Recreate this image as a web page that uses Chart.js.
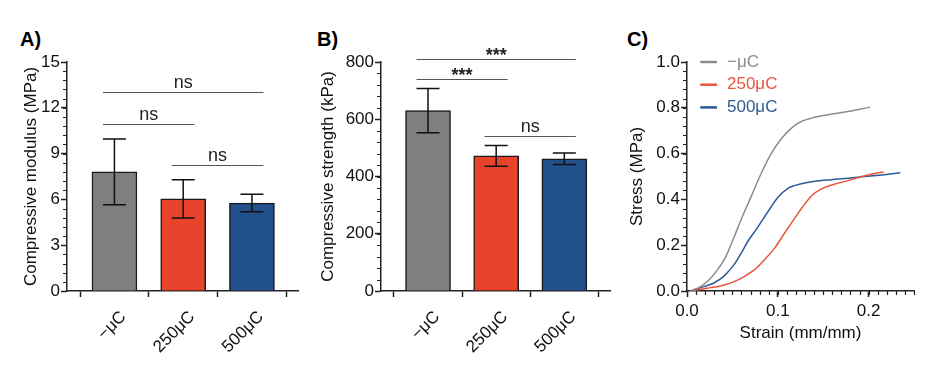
<!DOCTYPE html>
<html>
<head>
<meta charset="utf-8">
<script src="https://cdn.jsdelivr.net/npm/chart.js@4.4.1/dist/chart.umd.min.js"></script>
<style>
  html, body { margin: 0; padding: 0; background: #fff; }
  body { width: 932px; height: 378px; position: relative; overflow: hidden; font-family: "Liberation Sans", Arial, sans-serif; }
  .panel { position: absolute; top: 0; height: 378px; }
  .lbl { position: absolute; font-weight: bold; font-size: 20px; line-height: 1; color: #000; }
</style>
</head>
<body>
<div class="lbl" style="left:20px; top:29px;">A)</div>
<div class="lbl" style="left:317px; top:29px;">B)</div>
<div class="lbl" style="left:627px; top:29px;">C)</div>
<div class="panel" style="left:0px; width:310px;"><canvas id="chartA"></canvas></div>
<div class="panel" style="left:310px; width:310px;"><canvas id="chartB"></canvas></div>
<div class="panel" style="left:620px; width:312px;"><canvas id="chartC"></canvas></div>
<script>
// ---------------- data ----------------
const categories = ['−μC', '250μC', '500μC'];
const barColors = ['#7f7f7f', '#e8432a', '#23518c'];

const modulusMean = [7.8, 6.03, 5.76];
const modulusSD = [2.15, 1.25, 0.57];
const modulusTicks = [0, 3, 6, 9, 12, 15];
const modulusBrackets = [[0, 2, 13.05, 'ns'], [0, 1, 10.96, 'ns'], [1, 2, 8.25, 'ns']];

const strengthMean = [630, 472, 462];
const strengthSD = [77, 36, 20];
const strengthTicks = [0, 200, 400, 600, 800];
const strengthBrackets = [[0, 2, 811, '***'], [0, 1, 741, '***'], [1, 2, 541, 'ns']];

const curveLabels = ['−μC', '250μC', '500μC'];
const curveColors = ['#8c8c8c', '#e8553f', '#2d5b95'];
const strainTicks = [0, 0.1, 0.2];
const stressTicks = [0, 0.2, 0.4, 0.6, 0.8, 1.0];

const strainCtrl = [0.004, 0.0148, 0.0241, 0.0333, 0.0426, 0.0519, 0.0593, 0.0704, 0.0815, 0.0926, 0.1037, 0.1148, 0.1241, 0.137, 0.1556, 0.174, 0.189, 0.2018];
const stressCtrl = [0, 0.019, 0.048, 0.091, 0.149, 0.236, 0.309, 0.41, 0.512, 0.599, 0.664, 0.71, 0.737, 0.755, 0.770, 0.782, 0.793, 0.803];

const strain250 = [0.004, 0.0222, 0.037, 0.0518, 0.063, 0.074, 0.085, 0.0963, 0.107, 0.1185, 0.126, 0.137, 0.148, 0.163, 0.178, 0.1926, 0.207, 0.2167];
const stress250 = [0, 0.012, 0.022, 0.041, 0.063, 0.092, 0.135, 0.186, 0.25, 0.317, 0.36, 0.415, 0.446, 0.467, 0.483, 0.5, 0.513, 0.52];

const strain500 = [0.004, 0.0185, 0.0296, 0.0407, 0.0518, 0.0611, 0.0667, 0.0778, 0.0889, 0.1, 0.1111, 0.126, 0.1407, 0.159, 0.178, 0.196, 0.2148, 0.235];
const stress500 = [0, 0.019, 0.035, 0.065, 0.115, 0.175, 0.215, 0.278, 0.345, 0.408, 0.448, 0.468, 0.479, 0.486, 0.492, 0.5, 0.507, 0.516];

// ---------------- setup ----------------
Chart.defaults.font.family = '"Liberation Sans", Arial, sans-serif';
Chart.defaults.font.size = 17;
Chart.defaults.color = '#111';
Chart.defaults.animation = false;

const AXIS = '#222';

const extras = {
  id: 'extras',
  afterDatasetsDraw(chart, args, opts) {
    const ctx = chart.ctx, xs = chart.scales.x, ys = chart.scales.y;
    if (opts.err) {
      ctx.save();
      ctx.strokeStyle = '#111';
      ctx.lineWidth = 1.5;
      opts.err.mean.forEach((m, i) => {
        const px = xs.getPixelForValue(i);
        const t = ys.getPixelForValue(m + opts.err.sd[i]);
        const b = ys.getPixelForValue(m - opts.err.sd[i]);
        ctx.beginPath();
        ctx.moveTo(px, t); ctx.lineTo(px, b);
        ctx.moveTo(px - 11.5, t); ctx.lineTo(px + 11.5, t);
        ctx.moveTo(px - 11.5, b); ctx.lineTo(px + 11.5, b);
        ctx.stroke();
      });
      ctx.restore();
    }
  },
  afterDraw(chart, args, opts) {
    const ctx = chart.ctx, xs = chart.scales.x, ys = chart.scales.y, ca = chart.chartArea;
    ctx.save();
    // minor ticks
    ctx.strokeStyle = AXIS;
    ctx.lineWidth = 1.2;
    if (opts.minorY) {
      const n = Math.round((ys.max - ys.min) / opts.minorY);
      ctx.beginPath();
      for (let k = 0; k <= n; k++) {
        const py = Math.round(ys.getPixelForValue(ys.min + k * opts.minorY)) + 0.5;
        ctx.moveTo(ca.left - 4, py); ctx.lineTo(ca.left, py);
      }
      ctx.stroke();
    }
    if (opts.minorX) {
      const n = Math.round((xs.max - xs.min) / opts.minorX);
      ctx.beginPath();
      for (let k = 0; k <= n; k++) {
        const px = Math.round(xs.getPixelForValue(xs.min + k * opts.minorX)) + 0.5;
        ctx.moveTo(px, ca.bottom); ctx.lineTo(px, ca.bottom + 4);
      }
      ctx.stroke();
    }
    // significance brackets
    if (opts.brackets) {
      ctx.textAlign = 'center';
      ctx.textBaseline = 'alphabetic';
      opts.brackets.forEach(([a, b, v, label]) => {
        const x1 = xs.getPixelForValue(a) - 11.5;
        const x2 = xs.getPixelForValue(b) + 11.5;
        const py = Math.round(ys.getPixelForValue(v)) + 0.5;
        ctx.strokeStyle = '#555';
        ctx.lineWidth = 1.2;
        ctx.beginPath(); ctx.moveTo(x1, py); ctx.lineTo(x2, py); ctx.stroke();
        ctx.fillStyle = '#222';
        ctx.font = (label.startsWith('*') ? 'bold 18px' : '18px') + ' "Liberation Sans", Arial, sans-serif';
        const m = ctx.measureText(label);
        const desc = m.actualBoundingBoxDescent || 0;
        ctx.fillText(label, (x1 + x2) / 2, py - 5 - desc);
      });
    }
    // legend
    if (opts.legend) {
      ctx.font = '17px "Liberation Sans", Arial, sans-serif';
      ctx.textAlign = 'left';
      ctx.textBaseline = 'middle';
      chart.data.datasets.forEach((ds, i) => {
        const py = ca.top + i * 22.7;
        ctx.strokeStyle = ds.borderColor;
        ctx.lineWidth = 2.5;
        ctx.beginPath(); ctx.moveTo(ca.left + 13.3, py); ctx.lineTo(ca.left + 30, py); ctx.stroke();
        ctx.fillStyle = ds.borderColor;
        ctx.fillText(ds.label, ca.left + 40, py);
      });
    }
    ctx.restore();
  }
};

function axisBase() {
  return {
    border: { display: true, color: AXIS, width: 1.5 },
    grid: { display: true, drawOnChartArea: false, drawTicks: true, tickLength: 6, tickColor: AXIS, tickWidth: 1.5 }
  };
}

function barChart(id, mean, sd, ticksArr, brackets, title, yWidth, padRight, titlePad, minorY) {
  const ymax = ticksArr[ticksArr.length - 1];
  return new Chart(document.getElementById(id), {
    type: 'bar',
    data: {
      datasets: [{
        data: mean.map((v, i) => ({ x: i, y: v })),
        backgroundColor: barColors,
        borderColor: '#1a1a1a',
        borderWidth: 1.5,
        borderSkipped: 'start',
        barThickness: 45
      }]
    },
    options: {
      responsive: true,
      maintainAspectRatio: false,
      devicePixelRatio: 1,
      layout: { padding: { top: 62, right: padRight, left: 0, bottom: 0 } },
      plugins: {
        legend: { display: false },
        tooltip: { enabled: false },
        extras: { err: { mean, sd }, brackets, minorY }
      },
      scales: {
        x: Object.assign(axisBase(), {
          type: 'linear',
          min: -0.69,
          max: 2.67,
          offset: false,
          afterBuildTicks: s => { s.ticks = categories.map((c, i) => ({ value: i })); },
          afterFit: s => { s.height = 87; },
          ticks: {
            autoSkip: false,
            minRotation: 45,
            maxRotation: 45,
            padding: 10,
            labelOffset: 9,
            color: '#111',
            font: { size: 17 },
            callback: v => categories[v]
          }
        }),
        y: Object.assign(axisBase(), {
          min: 0,
          max: ymax,
          afterBuildTicks: s => { s.ticks = ticksArr.map(v => ({ value: v })); },
          afterFit: s => { s.width = yWidth; },
          ticks: { padding: 1, color: '#111', font: { size: 17 } },
          title: { display: true, text: title, color: '#111', font: { size: 17 }, padding: { top: titlePad, bottom: 0 } }
        })
      }
    },
    plugins: [extras]
  });
}

barChart('chartA', modulusMean, modulusSD, modulusTicks, modulusBrackets, 'Compressive modulus (MPa)', 67, 12, 21.5, 0.6);
barChart('chartB', strengthMean, strengthSD, strengthTicks, strengthBrackets, 'Compressive strength (kPa)', 71, 10, 8, 40);

const curves = [[strainCtrl, stressCtrl], [strain250, stress250], [strain500, stress500]];
new Chart(document.getElementById('chartC'), {
  type: 'line',
  data: {
    datasets: curves.map(([xs, ys], i) => ({
      label: curveLabels[i],
      data: xs.map((x, k) => ({ x, y: ys[k] })),
      borderColor: curveColors[i],
      borderWidth: 1.5,
      pointRadius: 0,
      fill: false,
      cubicInterpolationMode: 'monotone'
    }))
  },
  options: {
    responsive: true,
    maintainAspectRatio: false,
    devicePixelRatio: 1,
    layout: { padding: { top: 62, right: 18, left: 0, bottom: 0 } },
    plugins: {
      legend: { display: false },
      tooltip: { enabled: false },
      extras: { minorX: 0.01, minorY: 0.04, legend: true }
    },
    scales: {
      x: Object.assign(axisBase(), {
        type: 'linear',
        min: 0,
        max: 0.25,
        afterBuildTicks: s => { s.ticks = strainTicks.map(v => ({ value: v })); },
        afterFit: s => { s.height = 87; },
        ticks: { padding: 4, maxRotation: 0, color: '#111', font: { size: 17 }, callback: v => v.toFixed(1) },
        title: { display: true, text: 'Strain (mm/mm)', color: '#111', font: { size: 17 }, padding: { top: 0, bottom: 34 } }
      }),
      y: Object.assign(axisBase(), {
        min: 0,
        max: 1,
        afterBuildTicks: s => { s.ticks = stressTicks.map(v => ({ value: v })); },
        afterFit: s => { s.width = 67; },
        ticks: { padding: 1, color: '#111', font: { size: 17 }, callback: v => v.toFixed(1) },
        title: { display: true, text: 'Stress (MPa)', color: '#111', font: { size: 17 }, padding: { top: 7, bottom: 0 } }
      })
    }
  },
  plugins: [extras]
});
</script>
</body>
</html>
